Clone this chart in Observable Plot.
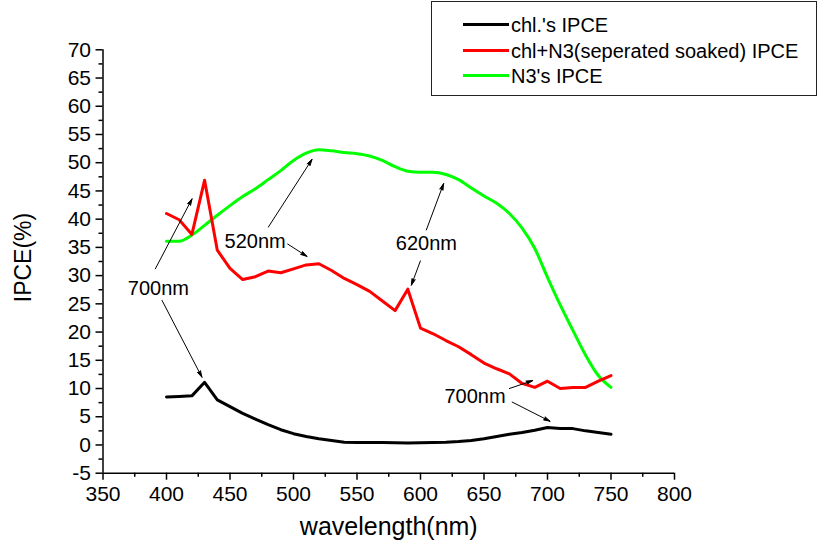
<!DOCTYPE html>
<html><head><meta charset="utf-8">
<script src="https://cdn.jsdelivr.net/npm/d3@7"></script>
<script src="https://cdn.jsdelivr.net/npm/@observablehq/plot@0.6"></script>
<style>
body{margin:0;background:#fff;font-family:"Liberation Sans",Arial,sans-serif;}
#wrap{position:relative;width:824px;height:555px;overflow:hidden;}
#legendBox{position:absolute;left:431px;top:1px;width:386px;height:95px;border:1.5px solid #222;box-sizing:border-box;background:#fff;}
.lg{position:absolute;font-size:20px;line-height:20px;color:#000;white-space:nowrap;}
.sw{position:absolute;height:3px;width:46px;}
</style>
</head><body>
<div id="wrap"></div>
<script>
const wavelength = [400,410,420,430,440,450,460,470,480,490,500,510,520,530,540,550,560,570,580,590,600,610,620,630,640,650,660,670,680,690,700,710,720,730,740,750];
const chlIPCE   = [8.5,8.6,8.7,11.1,8.0,6.8,5.6,4.6,3.6,2.7,2.0,1.5,1.1,0.8,0.5,0.45,0.45,0.45,0.4,0.35,0.4,0.45,0.5,0.6,0.8,1.1,1.5,1.9,2.2,2.6,3.1,2.9,2.9,2.5,2.2,1.9];
const chlN3IPCE = [41.0,39.9,37.3,46.9,34.5,31.3,29.3,29.8,30.8,30.5,31.2,31.9,32.1,30.9,29.5,28.4,27.2,25.5,23.8,27.6,20.7,19.7,18.5,17.4,16.0,14.5,13.5,12.6,10.9,10.2,11.3,10.0,10.2,10.2,11.3,12.3];
const n3IPCE    = [36.1,36.1,37.2,38.9,40.7,42.4,44.0,45.4,47.0,48.6,50.4,51.7,52.3,52.1,51.8,51.6,51.2,50.4,49.3,48.5,48.3,48.3,47.9,47.0,45.5,44.1,42.8,41.0,38.4,34.8,29.7,24.8,20.3,15.9,12.3,10.2];

const seriesNames  = ["chl.'s IPCE", "chl+N3(seperated soaked) IPCE", "N3's IPCE"];
const seriesColors = ["#000000", "#ff0000", "#00ff00"];

const xTicks = [350,400,450,500,550,600,650,700,750,800];
const xMinorTicks = [375,425,475,525,575,625,675,725,775];
const yTicks = [-5,0,5,10,15,20,25,30,35,40,45,50,55,60,65,70];
const yMinorTicks = [-2.5,2.5,7.5,12.5,17.5,22.5,27.5,32.5,37.5,42.5,47.5,52.5,57.5,62.5,67.5];

const annLabel = ["700nm","520nm","620nm","700nm"];
const annX = [393.6, 469.8, 604.6, 642.9];
const annY = [27.7, 36.1, 35.6, 8.5];
const arrowX1 = [391.2, 396.5, 480.2, 495.4, 604.6, 599.9, 670.0, 672.2];
const arrowY1 = [31.2, 25.6, 38.6, 35.6, 38.1, 32.6, 10.0, 7.6];
const arrowX2 = [420.1, 427.9, 514.6, 510.6, 618.2, 592.8, 688.3, 702.0];
const arrowY2 = [43.6, 12.0, 50.6, 33.4, 46.3, 28.3, 11.4, 4.2];

const toRows = vals => wavelength.map((w, i) => ({w, v: vals[i]}));
const black = toRows(chlIPCE), red = toRows(chlN3IPCE), green = toRows(n3IPCE);
const anns = annLabel.map((t, i) => ({t, x: annX[i], y: annY[i]}));
const arrows = arrowX1.map((x1, i) => ({x1, y1: arrowY1[i], x2: arrowX2[i], y2: arrowY2[i]}));

const chart = Plot.plot({
  width: 824, height: 555,
  marginLeft: 102.5, marginRight: 150, marginTop: 49.3, marginBottom: 82.3,
  style: {fontFamily: '"Liberation Sans", Arial, sans-serif', fontSize: "21px", color: "#000", background: "#fff", overflow: "visible"},
  x: {domain: [350, 800]},
  y: {domain: [-5, 70]},
  marks: [
    Plot.axisX({ticks: xTicks, tickSize: 7, tickPadding: 6, tickFormat: d => String(d), label: null, strokeWidth: 1.5}),
    Plot.axisX({ticks: xMinorTicks, tickSize: 4, tickFormat: () => "", label: null, strokeWidth: 1.5}),
    Plot.axisY({ticks: yTicks, tickSize: 7, tickPadding: 5, tickFormat: d => String(d), label: null, strokeWidth: 1.5}),
    Plot.axisY({ticks: yMinorTicks, tickSize: 4, tickFormat: () => "", label: null, strokeWidth: 1.5}),
    Plot.ruleX([350], {stroke: "#000", strokeWidth: 1.5}),
    Plot.ruleY([-5], {stroke: "#000", strokeWidth: 1.5}),
    Plot.line(black, {x: "w", y: "v", stroke: seriesColors[0], strokeWidth: 3, curve: "linear"}),
    Plot.line(green, {x: "w", y: "v", stroke: seriesColors[2], strokeWidth: 3, curve: "monotone-x"}),
    Plot.line(red, {x: "w", y: "v", stroke: seriesColors[1], strokeWidth: 3, curve: "linear"}),
    Plot.arrow(arrows, {x1: "x1", y1: "y1", x2: "x2", y2: "y2", stroke: "#000", fill: "#000", strokeWidth: 1, headLength: 10, headAngle: 30}),
    Plot.text(anns, {x: "x", y: "y", text: "t", fontSize: 20, fill: "#000"}),
    Plot.text(["wavelength(nm)"], {frameAnchor: "bottom", dy: 62, fontSize: 25, fill: "#000"}),
    Plot.text(["IPCE(%)"], {frameAnchor: "left", textAnchor: "middle", dx: -79, dy: -4, rotate: -90, fontSize: 23, fill: "#000"})
  ]
});
const wrap = document.getElementById("wrap");
wrap.appendChild(chart);

const box = document.createElement("div");
box.id = "legendBox";
wrap.appendChild(box);
const rowY = [24, 50, 75];
seriesNames.forEach((name, i) => {
  const sw = document.createElement("div");
  sw.className = "sw";
  sw.style.left = "463px";
  sw.style.top = (rowY[i] - 1.5) + "px";
  sw.style.background = seriesColors[i];
  wrap.appendChild(sw);
  const t = document.createElement("div");
  t.className = "lg";
  t.style.left = "511px";
  t.style.top = (rowY[i] - 9) + "px";
  t.textContent = name;
  wrap.appendChild(t);
});
</script>
</body></html>
